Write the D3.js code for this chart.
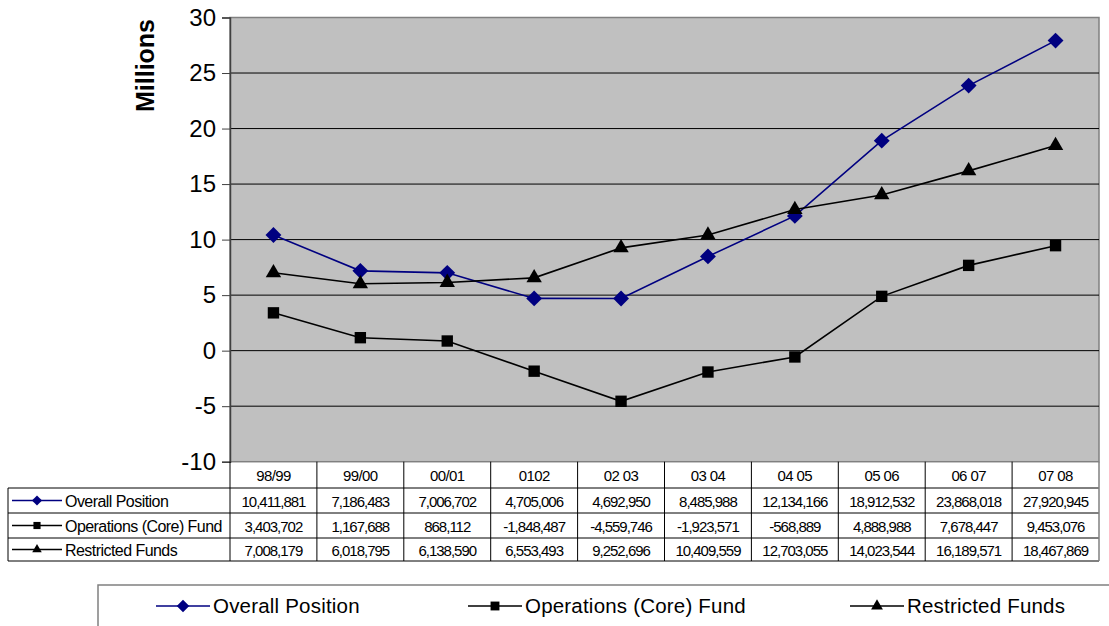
<!DOCTYPE html>
<html>
<head>
<meta charset="utf-8">
<script src="https://cdn.jsdelivr.net/npm/d3@7"></script>
<style>
  html, body { margin: 0; padding: 0; background: #ffffff; }
  svg { display: block; font-family: "Liberation Sans", Arial, sans-serif; }
</style>
</head>
<body>
<svg id="chart" width="1109" height="626"></svg>
<script>
// Financial year labels
const categories = ["98/99", "99/00", "00/01", "0102", "02 03", "03 04", "04 05", "05 06", "06 07", "07 08"];

// Series values (in dollars)
const overallPosition = [10411881, 7186483, 7006702, 4705006, 4692950, 8485988, 12134166, 18912532, 23868018, 27920945];
const operationsFund  = [3403702, 1167688, 868112, -1848487, -4559746, -1923571, -568889, 4888988, 7678447, 9453076];
const restrictedFunds = [7008179, 6018795, 6138590, 6553493, 9252696, 10409559, 12703055, 14023544, 16189571, 18467869];

const seriesNames = ["Overall Position", "Operations (Core) Fund", "Restricted Funds"];
const yTicks = [-10, -5, 0, 5, 10, 15, 20, 25, 30];

const series = [
  { name: seriesNames[0], values: overallPosition, color: "#000080", symbol: d3.symbolDiamond2, size: 160 },
  { name: seriesNames[1], values: operationsFund,  color: "#000000", symbol: d3.symbolSquare2,  size: 165 },
  { name: seriesNames[2], values: restrictedFunds, color: "#000000", symbol: d3.symbolTriangle2, size: 170 }
];

const svg = d3.select("#chart");

const plot = { left: 230, right: 1099, top: 17.5, bottom: 461.7 };

const x = d3.scaleBand().domain(categories).range([plot.left, plot.right]).padding(0);
const y = d3.scaleLinear().domain([-10, 30]).range([plot.bottom, plot.top]);
const cx = c => x(c) + x.bandwidth() / 2;

// Plain hyphen-minus for negatives
const fmt = v => (v < 0 ? "-" : "") + d3.format(",")(Math.abs(v));

// Plot background
svg.append("rect")
  .attr("x", plot.left).attr("y", plot.top)
  .attr("width", plot.right - plot.left).attr("height", plot.bottom - plot.top)
  .attr("fill", "#c0c0c0").attr("stroke", "#808080").attr("stroke-width", 1.5);

// Horizontal gridlines
svg.append("g").selectAll("line")
  .data(yTicks.filter(t => t > -10 && t < 30))
  .join("line")
  .attr("x1", plot.left).attr("x2", plot.right)
  .attr("y1", d => y(d)).attr("y2", d => y(d))
  .attr("stroke", "#000").attr("stroke-width", 1);

// Y axis
const yAxis = d3.axisLeft(y).tickValues(yTicks).tickSize(8).tickPadding(6).tickFormat(d => String(d));
const yg = svg.append("g").attr("transform", `translate(${plot.left},0)`).call(yAxis);
yg.select(".domain").attr("stroke", "#404040").attr("stroke-width", 1.5);
yg.selectAll(".tick line").attr("stroke", "#404040");
yg.selectAll(".tick text").attr("font-size", 24).attr("fill", "#000")
  .attr("font-family", "'Liberation Sans', Arial, sans-serif");

// Y axis title
svg.append("text")
  .attr("transform", "translate(154,65.5) rotate(-90)")
  .attr("text-anchor", "middle")
  .attr("font-size", 25).attr("font-weight", "bold")
  .text("Millions");

// Lines and markers
const line = d3.line()
  .x((d, i) => cx(categories[i]))
  .y(d => y(d / 1e6));

series.forEach(s => {
  svg.append("path")
    .datum(s.values)
    .attr("d", line)
    .attr("fill", "none")
    .attr("stroke", s.color)
    .attr("stroke-width", 1.6);
  svg.append("g").selectAll("path")
    .data(s.values)
    .join("path")
    .attr("transform", (d, i) => `translate(${cx(categories[i])},${y(d / 1e6)})`)
    .attr("d", d3.symbol().type(s.symbol).size(s.size))
    .attr("fill", s.color);
});

// Data table below the plot
const table = { left: 8, headerTop: plot.bottom, headerBottom: 488, rows: [488, 513, 538, 561] };
const tg = svg.append("g");

// Header row
tg.selectAll("text.head")
  .data(categories)
  .join("text")
  .attr("x", d => cx(d))
  .attr("y", 481)
  .attr("text-anchor", "middle")
  .attr("font-size", 15)
  .attr("letter-spacing", -0.6)
  .text(d => d);

// Horizontal table rules
tg.selectAll("line.h")
  .data(table.rows)
  .join("line")
  .attr("x1", table.left).attr("x2", plot.right)
  .attr("y1", d => d).attr("y2", d => d)
  .attr("stroke", "#000").attr("stroke-width", 1);

// Vertical rules
const edges = categories.map(c => x(c)).concat([plot.right]);
tg.selectAll("line.vh")
  .data(edges)
  .join("line")
  .attr("x1", d => d).attr("x2", d => d)
  .attr("y1", table.headerTop).attr("y2", table.rows[3])
  .attr("stroke", d => d === plot.right ? "#808080" : "#000").attr("stroke-width", d => d === plot.right ? 1.5 : 1);
tg.append("line")
  .attr("x1", table.left).attr("x2", table.left)
  .attr("y1", table.rows[0]).attr("y2", table.rows[3])
  .attr("stroke", "#000");

// Row labels with symbols and values
series.forEach((s, r) => {
  const top = table.rows[r], bottom = table.rows[r + 1];
  const mid = (top + bottom) / 2;
  tg.append("line")
    .attr("x1", 12).attr("x2", 62).attr("y1", mid).attr("y2", mid)
    .attr("stroke", s.color).attr("stroke-width", 1.5);
  tg.append("path")
    .attr("transform", `translate(37,${mid})`)
    .attr("d", d3.symbol().type(s.symbol).size(65))
    .attr("fill", s.color);
  tg.append("text")
    .attr("x", 65).attr("y", mid + 6.5)
    .attr("font-size", 16).attr("letter-spacing", -0.55)
    .text(s.name);
  tg.selectAll(null)
    .data(s.values)
    .join("text")
    .attr("x", (d, i) => cx(categories[i]))
    .attr("y", mid + 6)
    .attr("text-anchor", "middle")
    .attr("font-size", 15)
    .attr("letter-spacing", -1)
    .text(d => fmt(d));
});

// Legend
const lg = svg.append("g");
lg.append("rect")
  .attr("x", 98).attr("y", 585).attr("width", 1030).attr("height", 60)
  .attr("fill", "#fff").attr("stroke", "#808080").attr("stroke-width", 1.5);
const legendX = [156, 468, 850];
series.forEach((s, i) => {
  const lx = legendX[i], ly = 606;
  lg.append("line")
    .attr("x1", lx).attr("x2", lx + 54).attr("y1", ly).attr("y2", ly)
    .attr("stroke", s.color).attr("stroke-width", 1.5);
  lg.append("path")
    .attr("transform", `translate(${lx + 27},${ly})`)
    .attr("d", d3.symbol().type(s.symbol).size(100))
    .attr("fill", s.color);
  lg.append("text")
    .attr("x", lx + 57).attr("y", ly + 7)
    .attr("font-size", 20.5).attr("letter-spacing", 0.2)
    .text(s.name);
});
</script>
</body>
</html>
